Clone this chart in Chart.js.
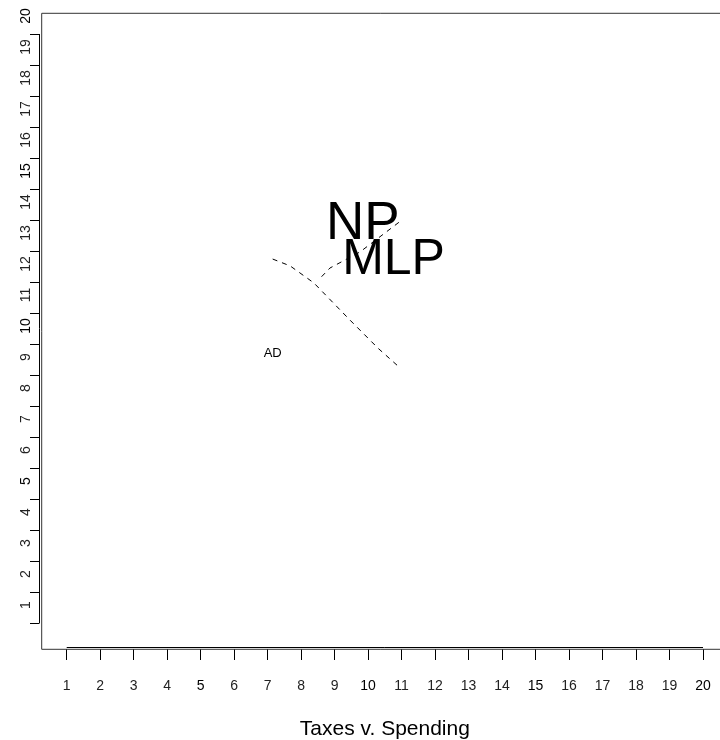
<!DOCTYPE html>
<html>
<head>
<meta charset="utf-8">
<script src="https://cdn.jsdelivr.net/npm/chart.js@4/dist/chart.umd.min.js"></script>
<style>
  body { margin: 0; background: #fff; }
  canvas { display: block; }
</style>
</head>
<body>
<canvas id="myChart" width="720" height="740"></canvas>
<script>
// values
const xTicks = [1, 2, 3, 4, 5, 6, 7, 8, 9, 10, 11, 12, 13, 14, 15, 16, 17, 18, 19, 20];
const yTicks = [1, 2, 3, 4, 5, 6, 7, 8, 9, 10, 11, 12, 13, 14, 15, 16, 17, 18, 19, 20];
const pathOneX = [7.15, 7.67, 8.38, 9.46, 10.30, 10.88];
const pathOneY = [12.74, 12.52, 11.97, 10.77, 9.86, 9.30];
const pathTwoX = [8.61, 8.86, 9.76, 10.95];
const pathTwoY = [12.17, 12.45, 12.97, 13.95];
const partyNames = ["NP", "MLP", "AD"];
const partyX = [9.84, 10.76, 7.15];
const partyY = [13.99, 12.83, 9.73];
const xTitle = "Taxes v. Spending";

const FONT = "'Liberation Sans', Arial, sans-serif";

const toPoints = (xs, ys) => xs.map((x, i) => ({ x, y: ys[i] }));

// frame, y axis, x title, party names
const extras = {
  id: "extras",
  afterDatasetsDraw(chart) {
    const ctx = chart.ctx;
    const xs = chart.scales.x;
    const ys = chart.scales.y;
    const sizes = { NP: 53, MLP: 50, AD: 13 };
    ctx.save();
    ctx.fillStyle = "#000";
    ctx.textAlign = "center";
    ctx.textBaseline = "alphabetic";
    partyNames.forEach((name, i) => {
      const s = sizes[name] || 13;
      ctx.font = s + "px " + FONT;
      ctx.fillText(name, xs.getPixelForValue(partyX[i]), ys.getPixelForValue(partyY[i]) + 0.358 * s);
    });
    ctx.restore();
  },
  afterDraw(chart) {
    const ctx = chart.ctx;
    const { left, top, bottom } = chart.chartArea;
    const xs = chart.scales.x;
    const ys = chart.scales.y;
    ctx.save();
    ctx.strokeStyle = "#333";
    ctx.lineWidth = 1;
    // box, right side is off the canvas
    ctx.beginPath();
    ctx.moveTo(720, top + 0.3);
    ctx.lineTo(left - 0.3, top + 0.3);
    ctx.lineTo(left - 0.3, bottom + 0.3);
    ctx.lineTo(720, bottom + 0.3);
    ctx.stroke();
    // x axis line
    const x0 = xs.getPixelForValue(xTicks[0]);
    const x1 = xs.getPixelForValue(xTicks[xTicks.length - 1]);
    ctx.strokeStyle = "#000";
    ctx.beginPath();
    ctx.moveTo(x0, bottom - 1.5);
    ctx.lineTo(x1, bottom - 1.5);
    ctx.stroke();
    // y axis line + ticks
    const ax = left - 2.5;
    ctx.beginPath();
    ctx.moveTo(ax, ys.getPixelForValue(yTicks[yTicks.length - 1]));
    ctx.lineTo(ax, ys.getPixelForValue(yTicks[0]));
    yTicks.forEach((v) => {
      const py = Math.round(ys.getPixelForValue(v)) + 0.5;
      ctx.moveTo(ax, py);
      ctx.lineTo(ax - 9.5, py);
    });
    ctx.stroke();
    // y labels, rotated the R way
    ctx.fillStyle = "#000";
    ctx.textAlign = "center";
    ctx.textBaseline = "alphabetic";
    yTicks.forEach((v) => {
      ctx.save();
      ctx.translate(30, ys.getPixelForValue(v) - 18);
      ctx.rotate(-Math.PI / 2);
      ctx.font = "14px " + FONT;
      ctx.fillStyle = v % 5 === 0 ? "#000" : "#222";
      ctx.fillText(String(v), 0, 0);
      ctx.restore();
    });
    // x title, centred under the tick run (plot box is wider than the canvas)
    ctx.font = "21px " + FONT;
    ctx.fillText(xTitle, (x0 + x1) / 2, 735);
    ctx.restore();
  },
};

const lineStyle = {
  showLine: true,
  borderColor: "#000",
  borderWidth: 1,
  borderDash: [5, 5],
  pointRadius: 0,
  tension: 0,
  fill: false,
};

const config = {
  type: "scatter",
  data: {
    datasets: [
      { label: "path1", data: toPoints(pathOneX, pathOneY), ...lineStyle },
      { label: "path2", data: toPoints(pathTwoX, pathTwoY), ...lineStyle },
    ],
  },
  options: {
    responsive: false,
    animation: false,
    layout: { padding: { left: 0, top: 13, right: 0, bottom: 0 } },
    plugins: { legend: { display: false }, tooltip: { enabled: false } },
    scales: {
      x: {
        type: "linear",
        position: "bottom",
        min: 0.2625,
        max: 20.507,
        afterFit: (s) => {
          s.height = 91;
          // don't let the edge labels shrink the plot area
          s.paddingLeft = 0;
          s.paddingRight = 0;
        },
        afterBuildTicks: (s) => { s.ticks = xTicks.map((v) => ({ value: v })); },
        border: { display: false },
        grid: {
          display: true,
          drawOnChartArea: false,
          drawTicks: true,
          tickLength: 11,
          tickColor: "#000",
          color: "#000",
        },
        ticks: {
          padding: 18,
          maxRotation: 0,
          autoSkip: false,
          color: (c) => (c.tick && c.tick.value % 5 === 0 ? "#000" : "#222"),
          font: { family: FONT, size: 14 },
          callback: (v) => String(v),
        },
      },
      y: {
        type: "linear",
        position: "left",
        min: 0.161,
        max: 20.677,
        afterFit: (s) => { s.width = 42; },
        border: { display: false },
        grid: { display: false },
        ticks: { display: false },
      },
    },
  },
  plugins: [extras],
};

const ctx = document.querySelector("#myChart");
const myChart = new Chart(ctx, config);
</script>
</body>
</html>
